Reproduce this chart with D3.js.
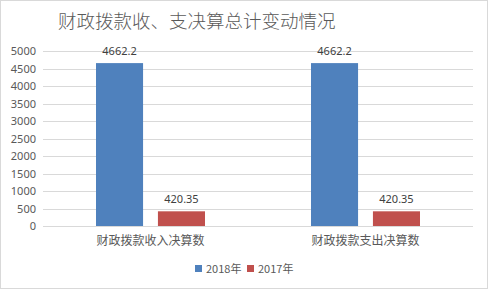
<!DOCTYPE html>
<html><head><meta charset="utf-8">
<script src="https://cdn.jsdelivr.net/npm/d3@7/dist/d3.min.js"></script>
<style>body{margin:0;background:#fff;}svg{display:block;}text{font-family:"Noto Sans CJK SC","Noto Sans",sans-serif;}</style>
</head><body>
<script>
const categories = ["财政拨款收入决算数", "财政拨款支出决算数"];
const seriesNames = ["2018年", "2017年"];
const values2018 = [4662.2, 4662.2];
const values2017 = [420.35, 420.35];
const yTicks = [0, 500, 1000, 1500, 2000, 2500, 3000, 3500, 4000, 4500, 5000];
const colors = ["#4f81bd", "#c0504d"];
const title = "财政拨款收、支决算总计变动情况";

(function () {
const W = 488, H = 289;
const svg = d3.select("body").append("svg").attr("width", W).attr("height", H);
svg.append("rect").attr("x", 0.5).attr("y", 0.5).attr("width", W - 1).attr("height", H - 1)
  .attr("fill", "#fff").attr("stroke", "#d9d9d9");

const mL = 43, mR = 473, mT = 51.3, mB = 226;
const x = d3.scaleBand().domain(categories).range([mL, mR]);
const sub = d3.scaleBand().domain(seriesNames).range([0, 109]).paddingInner(0.24);
const y = d3.scaleLinear().domain([0, 5000]).range([mB, mT]);

svg.append("g").selectAll("line").data(yTicks).join("line")
  .attr("x1", mL).attr("x2", mR)
  .attr("y1", d => Math.round(y(d)) + 0.5).attr("y2", d => Math.round(y(d)) + 0.5)
  .attr("stroke", "#d9d9d9").attr("stroke-width", 1);

const yAxis = d3.axisLeft(y).tickValues(yTicks).tickSize(0).tickPadding(0).tickFormat(d3.format("d"));
const ya = svg.append("g").attr("transform", `translate(${mL - 7},0)`).call(yAxis);
ya.select(".domain").remove();
ya.selectAll("text").attr("fill", "#595959").style("font-size", "11px").style("font-family", "'Noto Sans','DejaVu Sans',sans-serif");

const data = categories.map((c, i) => ({c, vals: [values2018[i], values2017[i]]}));
const groups = svg.append("g").selectAll("g").data(data).join("g")
  .attr("transform", d => `translate(${x(d.c) + x.bandwidth() / 2 - 54.5},0)`);
groups.selectAll("rect").data(d => d.vals.map((v, j) => ({v, s: seriesNames[j], j}))).join("rect")
  .attr("x", d => sub(d.s)).attr("width", sub.bandwidth())
  .attr("y", d => y(d.v)).attr("height", d => mB - y(d.v))
  .attr("fill", d => colors[d.j]);
groups.selectAll("text").data(d => d.vals.map((v, j) => ({v, s: seriesNames[j], j}))).join("text")
  .attr("x", d => sub(d.s) + sub.bandwidth() / 2).attr("y", d => y(d.v) - 8)
  .attr("text-anchor", "middle").attr("fill", "#404040")
  .style("font-size", "11px").style("font-family", "'Noto Sans','DejaVu Sans',sans-serif")
  .text(d => d.v);

const xAxis = d3.axisBottom(x).tickSize(0).tickPadding(10);
const xa = svg.append("g").attr("transform", `translate(0,${mB})`).call(xAxis);
xa.select(".domain").remove();
xa.selectAll("text").attr("fill", "#595959").style("font-size", "12px").style("font-family", "'Noto Sans CJK SC',sans-serif");

svg.append("text").attr("x", 58).attr("y", 28).attr("fill", "#595959")
  .style("font-size", "18.5px").style("font-weight", 300).text(title);

const legendX = [195, 247];
const lg = svg.append("g").selectAll("g").data(seriesNames).join("g")
  .attr("transform", (d, i) => `translate(${legendX[i]},265)`);
lg.append("rect").attr("width", 7).attr("height", 7).attr("fill", (d, i) => colors[i]);
lg.append("text").attr("x", 11).attr("y", 7.5).attr("fill", "#595959")
  .style("font-size", "11px").text(d => d);
})();
</script>
</body></html>
